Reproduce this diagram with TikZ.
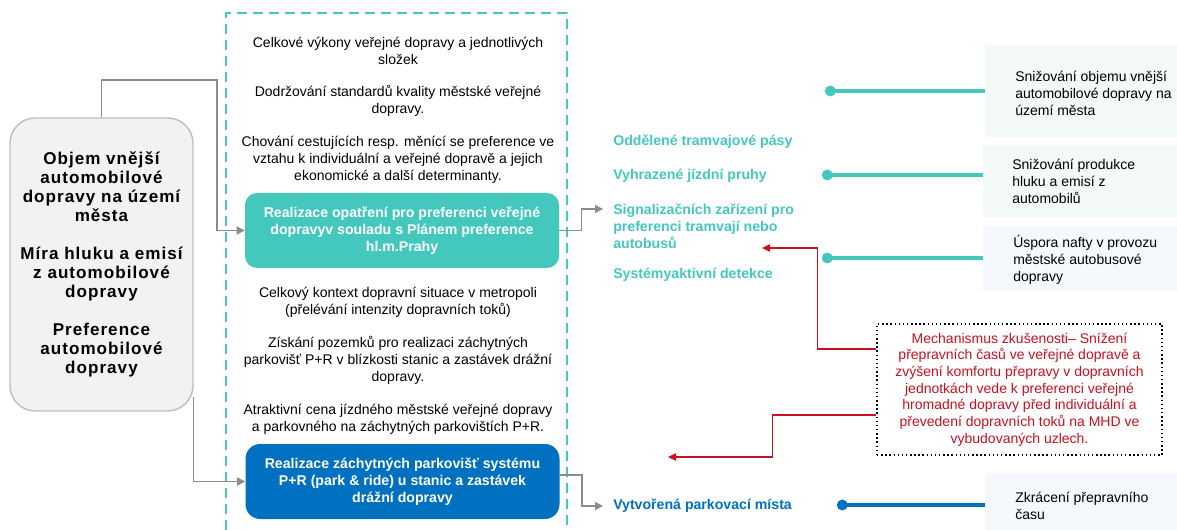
\documentclass[tikz,border=0pt]{standalone}
\usepackage{fontspec}
\setmainfont{Liberation Sans}
\usepackage{xcolor}
\usepackage{tikz}
\usetikzlibrary{arrows.meta}

\definecolor{tealc}{HTML}{44C8BE}
\definecolor{bluec}{HTML}{0070C0}
\definecolor{redc}{HTML}{C8101E}
\definecolor{greyc}{HTML}{8C8C8C}
\definecolor{mintc}{HTML}{F3FAF8}
\definecolor{icec}{HTML}{F5F8FC}

\begin{document}
\begin{tikzpicture}[x=0.75pt, y=-0.75pt,
  fact/.style={align=center, inner sep=0pt, font=\fontsize{10.5}{12.75}\selectfont},
  measure/.style={rounded corners=9pt, minimum width=235.5pt, minimum height=56.25pt, align=center, text=white, font=\bfseries\fontsize{10.6}{12.75}\selectfont},
  effect/.style={anchor=west, align=left, inner sep=0pt, font=\bfseries\fontsize{10.6}{12.75}\selectfont},
  goalbox/.style={inner sep=0pt},
  goal/.style={anchor=west, align=left, inner sep=0pt, font=\fontsize{10.5}{12.75}\selectfont},
  edge/.style={-{Triangle[length=6pt,width=6pt]}, draw=greyc, line width=1.1pt},
  redge/.style={-{Triangle[length=6pt,width=5.5pt]}, draw=redc, line width=0.9pt},
  link/.style={{Circle[length=8pt]}-, line width=2.8pt}
]
\useasboundingbox (0,0) rectangle (1177,530);

\draw[tealc, line width=1.4pt, dash pattern=on 7.5pt off 4.5pt] (226,530) -- (226,13) -- (567,13) -- (567,530);

\node[draw=black!25, fill=black!5, line width=1.1pt, rounded corners=19pt, minimum width=137.25pt, minimum height=219.75pt, align=center, font=\bfseries\fontsize{12.8}{14.25}\selectfont\addfontfeatures{LetterSpace=6}] (impact) at (101.5,264.5) {Objem vnější\\automobilové\\dopravy na území\\města\\[14.25pt]Míra hluku a emisí\\z automobilové\\dopravy\\[14.25pt]Preference\\automobilové\\dopravy};

\node[fact] (f1) at (398,51) {Celkové výkony veřejné dopravy a jednotlivých\\složek};
\node[fact] (f2) at (398,101) {Dodržování standardů kvality městské veřejné\\dopravy.};
\node[fact] (f3) at (398,159.5) {Chování cestujících resp. měnící se preference ve\\vztahu k individuální a veřejné dopravě a jejich\\ekonomické a další determinanty.};
\node[measure, fill=tealc] (tbox) at (402,230.5) {Realizace opatření pro preferenci veřejné\\dopravyv souladu s Plánem preference\\hl.m.Prahy};
\node[fact] (f4) at (398,302.5) {Celkový kontext dopravní situace v metropoli\\(přelévání intenzity dopravních toků)};
\node[fact] (f5) at (398,360.5) {Získání pozemků pro realizaci záchytných\\parkovišť P+R v blízkosti stanic a zastávek drážní\\dopravy.};
\node[measure, fill=bluec, rounded corners=11pt] (pbox) at (402.5,481.5) {Realizace záchytných parkovišť systému\\P+R (park \& ride) u stanic a zastávek\\drážní dopravy};
\node[fact] (f6) at (398,419.5) {Atraktivní cena jízdného městské veřejné dopravy\\a parkovného na záchytných parkovištích P+R.};

\node[effect, text=tealc] (lane) at (613,142) {Oddělené tramvajové pásy};
\node[effect, text=tealc] (bus) at (613,176) {Vyhrazené jízdní pruhy};
\node[effect, text=tealc] (sig) at (613,226) {Signalizačních zařízení pro\\preferenci tramvají nebo\\autobusů};
\node[effect, text=tealc] (det) at (613,275) {Systémyaktivní detekce};
\node[effect, text=bluec] (park) at (613,506) {Vytvořená parkovací místa};

\node[goalbox, fill=mintc, minimum width=144pt, minimum height=69pt] (g1) at (1081,91) {};
\node[goal] (g1t) at (1015,93) {Snižování objemu vnější\\automobilové dopravy na\\území města};
\node[goalbox, fill=mintc, minimum width=145.5pt, minimum height=54pt] (g2) at (1080,181) {};
\node[goal] (g2t) at (1012,181.5) {Snižování produkce\\hluku a emisí z\\automobilů};
\node[goalbox, fill=icec, minimum width=145.5pt, minimum height=48.75pt] (g3) at (1080,258.5) {};
\node[goal] (g3t) at (1013,259.5) {Úspora nafty v provozu\\městské autobusové\\dopravy};
\node[goalbox, fill=icec, minimum width=144pt, minimum height=42.75pt] (g4) at (1081,501.5) {};
\node[goal] (g4t) at (1015,506) {Zkrácení přepravního\\času};

\node[draw=black, dotted, line width=1.1pt, minimum width=213.75pt, minimum height=98.25pt, align=center, text=redc, font=\fontsize{10.5}{12.5}\selectfont] (mech) at (1019.5,389.5) {Mechanismus zkušenosti– Snížení\\přepravních časů ve veřejné dopravě a\\zvýšení komfortu přepravy v dopravních\\jednotkách vede k preferenci veřejné\\hromadné dopravy před individuální a\\převedení dopravních toků na MHD ve\\vybudovaných uzlech.};

\coordinate (bendA) at (217,80);
\coordinate (lowtap) at (193,397);
\coordinate (d1) at (825,91);
\coordinate (d2) at (822,175);
\coordinate (d3) at (822,258);
\coordinate (d4) at (837,505);
\coordinate (tipA) at (762,248);
\coordinate (tipB) at (668,457);

\draw[edge] (impact.north) |- (bendA) |- (tbox.west);
\draw[edge] (impact.east |- lowtap) |- (pbox.west);
\draw[edge] (tbox.east) -- ++(22,0) |- ([xshift=-7.5pt, yshift=12.75pt]sig.west);
\draw[edge] ([yshift=4.9pt]pbox.east) -- ++(22,0) |- ([xshift=-7.5pt]park.west);

\draw[link, tealc] (d1) -- (d1 -| g1.west);
\draw[link, tealc] (d2) -- (d2 -| g2.west);
\draw[link, tealc] (d3) -- (d3 -| g3.west);
\draw[link, bluec] (d4) -- (d4 -| g4.west);

\draw[redge] ([yshift=30.4pt]mech.west) -- ++(-59,0) |- (tipA);
\draw[redge] ([yshift=-19.1pt]mech.west) -- ++(-104,0) |- (tipB);
\end{tikzpicture}
\end{document}
